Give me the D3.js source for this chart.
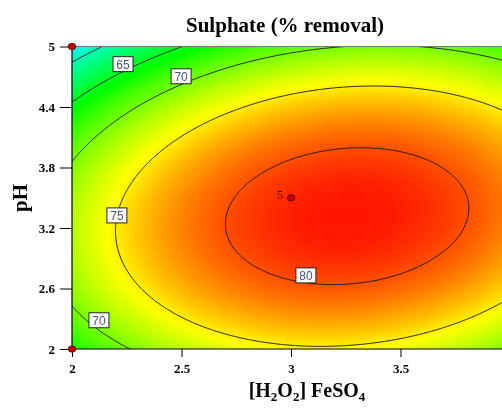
<!DOCTYPE html>
<html>
<head>
<meta charset="utf-8">
<script src="https://cdn.jsdelivr.net/npm/d3@7"></script>
<style>
  body { margin: 0; background: #fff; }
  #wrap { position: relative; width: 502px; height: 409px; overflow: hidden; }
  canvas, svg { position: absolute; left: 0; top: 0; }
</style>
</head>
<body>
<div id="wrap">
  <canvas id="heat" width="502" height="409"></canvas>
  <svg id="chart" width="502" height="409"></svg>
</div>
<script>
// quadratic response model: terms and coefficients
var terms = ["1", "A", "B", "A2", "B2", "AB"]
var coefs = [-18.04, 36.88, 24.06, -6.258, -4.2, 1.168]

var contourLevels = [60, 65, 70, 75, 80]
var xTicks = [2, 2.5, 3, 3.5, 4]
var yTicks = [2, 2.6, 3.2, 3.8, 4.4, 5]

// design points (x, y, replicate count)
var pointX = [2, 2, 3]
var pointY = [5, 2, 3.5]
var pointN = [1, 1, 5]

// labelled contours and where the labels sit
var labelValues = [65, 70, 75, 70, 80]
var labelX = [2.233, 2.498, 2.205, 2.123, 3.068]
var labelY = [4.82, 4.70, 3.32, 2.28, 2.725]

function model(a, b) {
  var t = [1, a, b, a * a, b * b, a * b]
  var s = 0
  for (var i = 0; i < t.length; i++) s += coefs[i] * t[i]
  return s
}

var serif = "Liberation Serif, Times New Roman, serif"

var x = d3.scaleLinear().domain([2, 4]).range([72, 510])
var y = d3.scaleLinear().domain([2, 5]).range([349, 46.5])

var color = d3.scaleLinear()
    .domain([49, 57.5, 66, 74.5, 82.5])
    .range(["#0000ff", "#00ffff", "#00ff00", "#ffff00", "#ff0000"])
    .clamp(true)

// colour map, one pixel at a time
var ctx = document.getElementById("heat").getContext("2d")
var x0 = Math.round(x(2)), x1 = 502, y0 = Math.round(y(5)), y1 = Math.round(y(2))
var img = ctx.createImageData(x1 - x0, y1 - y0)
for (var py = y0; py < y1; py++) {
  for (var px = x0; px < x1; px++) {
    var c = d3.rgb(color(model(x.invert(px + 0.5), y.invert(py + 0.5))))
    var k = ((py - y0) * (x1 - x0) + (px - x0)) * 4
    img.data[k] = c.r; img.data[k + 1] = c.g; img.data[k + 2] = c.b; img.data[k + 3] = 255
  }
}
ctx.putImageData(img, x0, y0)

var svg = d3.select("#chart")

svg.append("clipPath").attr("id", "plot")
  .append("rect")
    .attr("x", x(2)).attr("y", y(5))
    .attr("width", x(4) - x(2)).attr("height", y(2) - y(5))

// contour grid, a bit larger than the plot so the ring edges fall outside
var gx = [1.9, 4.1], gy = [1.9, 5.1]
var n = 221, m = 321
var values = new Array(n * m)
for (var j = 0; j < m; j++) {
  for (var i = 0; i < n; i++) {
    var a = gx[0] + (i + 0.5) / n * (gx[1] - gx[0])
    var b = gy[0] + (j + 0.5) / m * (gy[1] - gy[0])
    values[j * n + i] = model(a, b)
  }
}
var contours = d3.contours().size([n, m]).thresholds(contourLevels)(values)

var gridToPx = d3.geoTransform({
  point: function(gi, gj) {
    this.stream.point(
      x(gx[0] + gi / n * (gx[1] - gx[0])),
      y(gy[0] + gj / m * (gy[1] - gy[0])))
  }
})
var path = d3.geoPath(gridToPx)

svg.append("g")
    .attr("clip-path", "url(#plot)")
  .selectAll("path")
  .data(contours)
  .enter().append("path")
    .attr("d", path)
    .attr("fill", "none")
    .attr("stroke", "#111")
    .attr("stroke-width", 0.9)

// plot frame
svg.append("line")
    .attr("x1", x(2)).attr("x2", 502).attr("y1", y(5)).attr("y2", y(5))
    .attr("stroke", "#777").attr("stroke-width", 1)
svg.append("line")
    .attr("x1", x(2)).attr("x2", x(2)).attr("y1", y(5)).attr("y2", y(2))
    .attr("stroke", "#000").attr("stroke-width", 1.2)
svg.append("line")
    .attr("x1", x(2)).attr("x2", 502).attr("y1", y(2)).attr("y2", y(2))
    .attr("stroke", "#000").attr("stroke-width", 1.2)

// axes
var xAxis = d3.axisBottom(x).tickValues(xTicks).tickSize(8).tickSizeOuter(0)
    .tickFormat(d3.format("~g"))
var yAxis = d3.axisLeft(y).tickValues(yTicks).tickSize(12).tickSizeOuter(0)
    .tickFormat(d3.format("~g"))

var gxA = svg.append("g").attr("transform", "translate(0," + y(2) + ")").call(xAxis)
var gyA = svg.append("g").attr("transform", "translate(" + x(2) + ",0)").call(yAxis)
;[gxA, gyA].forEach(function(g) {
  g.select(".domain").remove()
  g.selectAll("line").attr("stroke", "#000")
  g.selectAll("text")
    .attr("font-family", serif)
    .attr("font-weight", "bold")
    .attr("font-size", 13)
    .attr("fill", "#000")
})
gxA.selectAll("text").attr("dy", null).attr("y", 24)
gyA.selectAll("text").attr("x", -17)

// contour labels
var lab = svg.append("g").selectAll("g")
  .data(labelValues)
  .enter().append("g")
    .attr("transform", function(d, i) { return "translate(" + x(labelX[i]) + "," + y(labelY[i]) + ")" })
lab.append("rect")
    .attr("x", -10).attr("y", -8).attr("width", 20).attr("height", 15)
    .attr("fill", "#fff").attr("stroke", "#222").attr("stroke-width", 1)
lab.append("text")
    .attr("text-anchor", "middle").attr("y", 4.5)
    .attr("font-family", "Liberation Sans, Arial, sans-serif")
    .attr("font-size", 12)
    .attr("fill", "#4a5570")
    .text(function(d) { return d })

// design points
svg.append("g").selectAll("ellipse")
  .data(pointN)
  .enter().append("ellipse")
    .attr("cx", function(d, i) { return x(pointX[i]) })
    .attr("cy", function(d, i) { return y(pointY[i]) })
    .attr("rx", 3.8).attr("ry", 3.2)
    .attr("fill", "#c00000").attr("stroke", "#5a0000").attr("stroke-width", 0.8)
svg.append("g").selectAll("text")
  .data(pointN.filter(function(d) { return d > 1 }))
  .enter().append("text")
    .attr("x", x(3) - 8).attr("y", y(3.5) + 1)
    .attr("text-anchor", "end")
    .attr("font-family", serif)
    .attr("font-size", 12)
    .attr("fill", "#4a0000")
    .text(function(d) { return d })

// titles
svg.append("text")
    .attr("x", 285).attr("y", 32)
    .attr("text-anchor", "middle")
    .attr("font-family", serif)
    .attr("font-weight", "bold").attr("font-size", 21)
    .text("Sulphate (% removal)")

svg.append("text")
    .attr("transform", "translate(27,198) rotate(-90)")
    .attr("text-anchor", "middle")
    .attr("font-family", serif)
    .attr("font-weight", "bold").attr("font-size", 21)
    .text("pH")

var xl = svg.append("text")
    .attr("x", 307).attr("y", 397)
    .attr("text-anchor", "middle")
    .attr("font-family", serif)
    .attr("font-weight", "bold").attr("font-size", 20)
xl.append("tspan").text("[H")
xl.append("tspan").attr("font-size", 13).attr("dy", 4).text("2")
xl.append("tspan").attr("dy", -4).text("O")
xl.append("tspan").attr("font-size", 13).attr("dy", 4).text("2")
xl.append("tspan").attr("dy", -4).text("] FeSO")
xl.append("tspan").attr("font-size", 13).attr("dy", 4).text("4")
</script>
</body>
</html>
